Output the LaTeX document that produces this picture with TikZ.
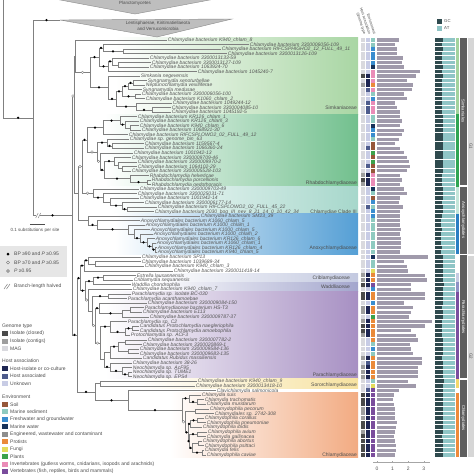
\documentclass[tikz,border=0pt]{standalone}
\usepackage{fontspec}
\setmainfont{Liberation Sans}
\usetikzlibrary{calc}
\definecolor{brc}{HTML}{808080}
\definecolor{labc}{HTML}{555555}
\definecolor{txtc}{HTML}{4D4D4D}
\definecolor{trif}{HTML}{BEBEBE}
\definecolor{trid}{HTML}{8A8A8A}
\definecolor{fsimk}{HTML}{A9D6A4}
\definecolor{frhab}{HTML}{72C08E}
\definecolor{fclIII}{HTML}{A6D7CB}
\definecolor{fanox}{HTML}{559FD5}
\definecolor{fcrib}{HTML}{C3C9E0}
\definecolor{fwadd}{HTML}{A3A6CD}
\definecolor{fpara}{HTML}{A790C3}
\definecolor{fsoro}{HTML}{F7E2A0}
\definecolor{fchla}{HTML}{F2AB82}
\definecolor{stsimk}{HTML}{A3D39E}
\definecolor{strhab}{HTML}{2FA553}
\definecolor{stclIII}{HTML}{C4E6DA}
\definecolor{stanox}{HTML}{2B7FC3}
\definecolor{stcrib}{HTML}{C6CBE2}
\definecolor{stwadd}{HTML}{8F92C6}
\definecolor{stpara}{HTML}{7B4FA0}
\definecolor{stsoro}{HTML}{F3D86B}
\definecolor{stchla}{HTML}{EE8B3B}
\definecolor{gtc}{HTML}{4A4A4A}
\definecolor{gtg}{HTML}{9E9E9E}
\definecolor{gtm}{HTML}{D9D9DE}
\definecolor{hsh}{HTML}{1E2652}
\definecolor{hsa}{HTML}{4E5C8C}
\definecolor{hsu}{HTML}{C8CCE5}
\definecolor{evsoi}{HTML}{96573A}
\definecolor{evsed}{HTML}{8ECAC0}
\definecolor{evfre}{HTML}{3A8DCF}
\definecolor{evmar}{HTML}{17325A}
\definecolor{eveng}{HTML}{8E8E8E}
\definecolor{evpro}{HTML}{EA8A3A}
\definecolor{evfun}{HTML}{E4DC5A}
\definecolor{evpla}{HTML}{3CA24B}
\definecolor{evinv}{HTML}{EA8CB8}
\definecolor{evver}{HTML}{7A4C9C}
\definecolor{barc}{HTML}{A09AAB}
\definecolor{gcd}{HTML}{2F4A4E}
\definecolor{atl}{HTML}{8FC5C6}
\definecolor{ordc}{HTML}{5E5E5E}
\definecolor{grpc}{HTML}{D6D6D6}
\definecolor{legbox}{HTML}{E6E6E6}
% leaf: index, tip x, name
\newcommand{\leaf}[3]{%
  \pgfmathsetmacro{\yy}{ifthenelse(#1<49,40+(#1-1)*4.51,257+(#1-49)*4.6)}%
  \coordinate (l#1) at (#2,\yy);
  \node[lab] at (l#1) {#3};}
% clade: name, x, upper child, lower child
\newcommand{\clade}[4]{%
  \path let \p1=(#3), \p2=(#4) in coordinate (#1) at ({#2pt},{0.5*(\y1+\y2)});
  \draw[br] (#3) -- (#3 -| #1) -- (#4 -| #1) -- (#4);}
\newcommand{\cladey}[5]{%
  \coordinate (#1) at (#2,#3);
  \draw[br] (#4) -- (#4 -| #1) -- (#5 -| #1) -- (#5);}
\newcommand{\dotb}[2]{\fill[black] ($(#1)!.5!(#1 -| #2)$) circle (1.25);}
\newcommand{\dotw}[2]{\filldraw[fill=white,draw=brc,line width=.4pt] ($(#1)!.5!(#1 -| #2)$) circle (1.3);}

\begin{document}
\begin{tikzpicture}[x=1pt,y=-1pt,
  br/.style={draw=brc,line width=.5pt},
  lab/.style={anchor=base west,inner sep=.7pt,yshift=-1.75pt,text=labc,font=\fontsize{5}{5}\selectfont\itshape},
  fam/.style={anchor=base east,inner sep=0pt,yshift=-1.75pt,text=txtc,font=\fontsize{5}{5}\selectfont},
  leg/.style={anchor=west,inner sep=0pt,text=txtc,font=\fontsize{5}{6}\selectfont},
  hdr/.style={anchor=base east,rotate=-72,inner sep=0pt,text=txtc,font=\fontsize{3.8}{4}\selectfont},
  ordt/.style={rotate=-90,inner sep=0pt,text=white,font=\fontsize{4.3}{5}\selectfont},
  grpt/.style={rotate=-90,inner sep=0pt,text=txtc,font=\fontsize{4.5}{5}\selectfont}]
\useasboundingbox (0,0) rectangle (474,474);

% family bands
\shade[left color=white,right color=fsimk] (115,37.7) rectangle (358,114.4);
\shade[left color=white,right color=frhab] (105,114.4) rectangle (358,186.6);
\shade[left color=white,right color=fclIII] (110,186.6) rectangle (358,213.6);
\shade[left color=white,right color=fanox] (115,213.6) rectangle (358,254.2);
\shade[left color=white,right color=fcrib] (150,273.1) rectangle (358,282.3);
\shade[left color=white,right color=fwadd] (150,282.3) rectangle (358,291.5);
\shade[left color=white,right color=fpara] (105,291.5) rectangle (358,378.9);
\shade[left color=white,right color=fsoro] (140,378.9) rectangle (358,388.1);
\shade[left color=white,right color=fchla] (170,392.7) rectangle (358,457.1);

% collapsed outgroups
\filldraw[fill=trif,draw=trid,line width=.4pt] (55,-1) -- (135,14) -- (215,-1) -- cycle;
\node[text=txtc,font=\fontsize{4.5}{5}\selectfont] at (135,3) {Planctomycetes};
\filldraw[fill=trif,draw=trid,line width=.4pt] (60,20) -- (232,19) -- (157,37) -- cycle;
\node[text=txtc,font=\fontsize{4.5}{5.6}\selectfont,align=center] at (158,26) {Lentisphaerae, Kiritimatiellaeota\\and Verrucomicrobia};

% leaves
\leaf{1}{167}{Chlamydiae bacterium K940\_chlam\_8}
\leaf{2}{249}{Chlamydiae bacterium 3300006056-109}
\leaf{3}{221}{Chlamydiae bacterium RIFCSPHIGHO2\_12\_FULL\_49\_11}
\leaf{4}{227}{Chlamydiae bacterium 3300013126-109}
\leaf{5}{149}{Chlamydiae bacterium 3300013133-59}
\leaf{6}{151}{Chlamydiae bacterium 3300013127-109}
\leaf{7}{149}{Chlamydiae bacterium 1063924-70}
\leaf{8}{197}{Chlamydiae bacterium 1045240-7}
\leaf{9}{140}{Simkania negevensis}
\leaf{10}{147}{Syngnamydia xenoturbellae}
\leaf{11}{145}{Neptunochlamydia vexilliferae}
\leaf{12}{142}{Syngnamydia medusae}
\leaf{13}{141}{Chlamydiae bacterium 3300006056-100}
\leaf{14}{145}{Chlamydiae bacterium K1060\_chlam\_2}
\leaf{15}{172}{Chlamydiae bacterium 1049244-12}
\leaf{16}{171}{Chlamydiae bacterium 3300004085-10}
\leaf{17}{171}{Chlamydiae bacterium 1045192-5}
\leaf{18}{137}{Chlamydiae bacterium KR126\_chlam\_1}
\leaf{19}{139}{Chlamydiae bacterium KR126\_chlam\_3}
\leaf{20}{139}{Chlamydiae bacterium K940\_chlam\_6}
\leaf{21}{141}{Chlamydiae bacterium 1068921-30}
\leaf{22}{128}{Chlamydiae bacterium RIFCSPLOWO2\_02\_FULL\_49\_12}
\leaf{23}{129}{Chlamydiae sp. genome\_bin\_63}
\leaf{24}{144}{Chlamydiae bacterium 1159567-4}
\leaf{25}{144}{Chlamydiae bacterium 1066360-24}
\leaf{26}{133}{Chlamydiae bacterium 1001942-13}
\leaf{27}{131}{Chlamydiae bacterium 3300009709-46}
\leaf{28}{137}{Chlamydiae bacterium 3300009970-2}
\leaf{29}{137}{Chlamydiae bacterium 1064102-29}
\leaf{30}{131}{Chlamydiae bacterium 3300005528-103}
\leaf{31}{149}{Rhabdochlamydia helveticae}
\leaf{32}{151}{Rhabdochlamydia porcellionis}
\leaf{33}{151}{Rhabdochlamydia oedothoracis}
\leaf{34}{139}{Chlamydiae bacterium 3300009703-49}
\leaf{35}{137}{Chlamydiae bacterium 3300025031-71}
\leaf{36}{139}{Chlamydiae bacterium 1001942-14}
\leaf{37}{144}{Chlamydiae bacterium 3300006177-14}
\leaf{38}{157}{Chlamydiae bacterium RIFCSPLOWO2\_02\_FULL\_45\_22}
\leaf{39}{154}{Chlamydiae bacterium 2030\_bog\_III\_nev\_8\_21\_14\_0\_10\_42\_34}
\leaf{40}{200}{Chlamydiae bacterium SM23\_39}
\leaf{41}{140}{Anoxychlamydiales bacterium K1060\_chlam\_5}
\leaf{42}{145}{Anoxychlamydiales bacterium K1000\_chlam\_1}
\leaf{43}{150}{Anoxychlamydiales bacterium K1000\_chlam\_5}
\leaf{44}{153}{Anoxychlamydiales bacterium K1000\_chlam\_2}
\leaf{45}{155}{Anoxychlamydiales bacterium KR126\_chlam\_6}
\leaf{46}{156}{Anoxychlamydiales bacterium K1060\_chlam\_1}
\leaf{47}{157}{Anoxychlamydiales bacterium KR126\_chlam\_4}
\leaf{48}{157}{Anoxychlamydiales bacterium K940\_chlam\_5}
\leaf{49}{141}{Chlamydiae bacterium SP13}
\leaf{50}{141}{Chlamydiae bacterium 1039689-34}
\leaf{51}{144}{Chlamydiae bacterium K940\_chlam\_3}
\leaf{52}{173}{Chlamydiae bacterium 3300011418-14}
\leaf{53}{136}{Estrella lausannensis}
\leaf{54}{133}{Criblamydia sequanensis}
\leaf{55}{131}{Waddlia chondrophila}
\leaf{56}{132}{Chlamydiae bacterium K940\_chlam\_7}
\leaf{57}{131}{Parachlamydia sp. isolate BC-030}
\leaf{58}{127}{Parachlamydia acanthamoebae}
\leaf{59}{147}{Chlamydiae bacterium 3300009084-150}
\leaf{60}{144}{Parachlamydiaceae bacterium HS-T3}
\leaf{61}{142}{Chlamydiae bacterium E113}
\leaf{62}{149}{Chlamydiae bacterium 3300009787-37}
\leaf{63}{127}{Parachlamydia sp. C2}
\leaf{64}{139}{Candidatus Protochlamydia naegleriophila}
\leaf{65}{139}{Candidatus Protochlamydia amoebophila}
\leaf{66}{130}{Protochlamydia sp. ACF3}
\leaf{67}{147}{Chlamydiae bacterium 3300007782-2}
\leaf{68}{142}{Chlamydiae bacterium 3300020869-1}
\leaf{69}{139}{Chlamydiae bacterium 3300009584-136}
\leaf{70}{139}{Chlamydiae bacterium 3300009683-135}
\leaf{71}{142}{Candidatus Rubidus massiliensis}
\leaf{72}{132}{Chlamydiae bacterium 38-26}
\leaf{73}{132}{Neochlamydia sp. AcF95}
\leaf{74}{132}{Neochlamydia sp. TUME1}
\leaf{75}{132}{Neochlamydia sp. EPS4}
\leaf{76}{197}{Chlamydiae bacterium K940\_chlam\_9}
\leaf{77}{195}{Chlamydiae bacterium 3300013418-10}
\leaf{78}{216}{Clavichlamydia salmonicola}
\leaf{79}{201}{Chlamydia suis}
\leaf{80}{204}{Chlamydia trachomatis}
\leaf{81}{206}{Chlamydia muridarum}
\leaf{82}{209}{Chlamydophila pecorum}
\leaf{83}{214}{Chlamydiales sp. 2742-308}
\leaf{84}{204}{Chlamydophila corallus}
\leaf{85}{206}{Chlamydophila pneumoniae}
\leaf{86}{202}{Chlamydophila ibidis}
\leaf{87}{207}{Chlamydophila avium}
\leaf{88}{206}{Chlamydia gallinacea}
\leaf{89}{202}{Chlamydophila abortus}
\leaf{90}{204}{Chlamydophila psittaci}
\leaf{91}{204}{Chlamydia felis}
\leaf{92}{206}{Chlamydophila caviae}

% Simkaniaceae
\clade{s7}{118}{l6}{l7}
\clade{s6}{112}{l5}{s7}
\clade{s5}{108}{s6}{l8}
\clade{s4}{123}{l3}{l4}
\clade{s3}{103}{l2}{s4}
\clade{s2}{99}{s3}{s5}
\clade{s13}{133}{l10}{l11}
\clade{s12}{128}{s13}{l12}
\clade{s14}{135}{l13}{l14}
\clade{s11}{122}{s12}{s14}
\clade{s16}{152}{l16}{l17}
\clade{s15}{136}{l15}{s16}
\clade{s10}{116}{s11}{s15}
\clade{s9}{108}{l9}{s10}
\clade{s8}{90}{s2}{s9}
\clade{s1}{75}{l1}{s8}
% Rhabdochlamydiaceae
\clade{r4}{130}{l20}{l21}
\clade{r3}{125}{l19}{r4}
\clade{r2}{120}{l18}{r3}
\clade{r1}{103}{r2}{l22}
\clade{r6}{112}{l24}{l25}
\clade{r5}{107}{l23}{r6}
\clade{r11}{122}{l29}{l30}
\clade{r10}{118}{l28}{r11}
\clade{r9}{114}{l27}{r10}
\clade{r13}{147}{l32}{l33}
\clade{r12}{130}{l31}{r13}
\clade{r8}{104}{r9}{r12}
\clade{r7}{100}{l26}{r8}
\clade{r14}{97}{r5}{r7}
\clade{r0}{87}{r1}{r14}
% Clade III
\clade{c5}{127}{l38}{l39}
\clade{c4}{122}{l37}{c5}
\clade{c3}{110}{l36}{c4}
\clade{c2}{103}{l35}{c3}
\clade{c1}{93}{l34}{c2}
% Anoxychlamydiaceae
\clade{a7}{155}{l47}{l48}
\clade{a6}{152}{l46}{a7}
\clade{a5}{147}{l45}{a6}
\clade{a4}{140}{l44}{a5}
\clade{a3}{134}{l43}{a4}
\clade{a2}{128}{l42}{a3}
\clade{a1}{97}{l41}{a2}
\clade{a0}{88}{l40}{a1}
\clade{rc}{82}{r0}{c1}
\clade{rca}{78}{rc}{a0}
\cladey{up}{74}{96}{s1}{rca}
% lower half
\clade{u2}{95}{l50}{l51}
\clade{u1}{88}{l49}{u2}
\clade{u0}{84}{u1}{l52}
\clade{cr}{103}{l53}{l54}
\clade{cw}{93}{cr}{l55}
\clade{p2}{108}{l57}{l58}
\clade{p4b}{130}{l60}{l61}
\clade{p4a}{122}{p4b}{l62}
\clade{p4}{99}{l59}{p4a}
\clade{p6b}{132}{l64}{l65}
\clade{p6a}{125}{p6b}{l66}
\clade{p6}{110}{l63}{p6a}
\clade{p8b}{125}{l67}{l68}
\clade{p8c}{128}{l69}{l70}
\clade{p8a}{118}{p8b}{p8c}
\clade{p8}{110}{p8a}{l71}
\clade{p9b}{128}{l74}{l75}
\clade{p9a}{122}{l73}{p9b}
\clade{p9}{110}{l72}{p9a}
\clade{p7}{104}{p8}{p9}
\clade{p5}{100}{p6}{p7}
\clade{p3}{95}{p4}{p5}
\clade{p1}{92}{p2}{p3}
\clade{pa}{88}{l56}{p1}
\clade{p0}{85}{cw}{pa}
\clade{pp}{80}{u0}{p0}
% Chlamydiaceae
\clade{y1a}{197}{l80}{l81}
\clade{y1}{189}{l79}{y1a}
\clade{y3}{195}{l82}{l83}
\clade{y5a}{197}{l84}{l85}
\clade{y5}{190}{y5a}{l86}
\clade{y6a}{197}{l87}{l88}
\clade{y7a}{198}{l89}{l90}
\clade{y7b}{202}{l91}{l92}
\clade{y7}{192}{y7a}{y7b}
\clade{y6}{189}{y6a}{y7}
\clade{y4}{188}{y5}{y6}
\clade{y2}{185}{y3}{y4}
\clade{y0}{182}{y1}{y2}
\clade{ch2}{128}{l78}{y0}
\clade{so}{100}{l76}{l77}
\clade{ch}{95}{so}{ch2}
\clade{lo}{77}{pp}{ch}
\clade{root}{72}{up}{lo}
\coordinate (lent) at (60,20);
\clade{outer}{33}{lent}{root}
\coordinate (pl) at (3,-2);
\draw[br] (pl) -- (outer -| pl) -- (outer);

% branch-length halved mark
\coordinate (hv) at ($(root -| outer)!.12!(root)$);
\fill[white] ([shift={(-1.5,-1)}]hv) rectangle ([shift={(2,1)}]hv);
\draw[br] ([shift={(-2,2.5)}]hv) -- ([shift={(0.5,-2.5)}]hv);
\draw[br] ([shift={(0.5,2.5)}]hv) -- ([shift={(3,-2.5)}]hv);

% support values
\foreach \n/\p in {s2/s8,s3/s2,s4/s3,s5/s2,s6/s5,s9/s8,s10/s9,s11/s10,s12/s11,s13/s12,s14/s11,s15/s10,s16/s15,
  r0/rc,r1/r0,r2/r1,r3/r2,r5/r14,r6/r5,r8/r7,r9/r8,r12/r8,r13/r12,c2/c1,c4/c3,c5/c4,
  a1/a0,a2/a1,a4/a3,a5/a4,a6/a5,a7/a6,u0/pp,u1/u0,p0/pp,cw/p0,cr/cw,p2/p1,p4/p3,p4a/p4,
  p6/p5,p6a/p6,p6b/p6a,p8a/p8,p9/p7,p9a/p9,p9b/p9a,pp/lo,lo/root,ch/lo,ch2/ch,y0/ch2,y1/y0,
  y1a/y1,y4/y2,y5/y4,y5a/y5,y6/y4,y6a/y6,y7/y6,y7b/y7,root/outer,lent/outer,outer/pl}
  {\dotb{\n}{\p}}
\foreach \n/\p in {s8/s1,up/root,r14/r0,r7/r14,rc/rca,c1/rc,pa/p0,p3/p1,p5/p3,y2/y0}
  {\dotw{\n}{\p}}

% family names
\node[fam] at (357,108) {Simkaniaceae};
\node[fam] at (357,183) {Rhabdochlamydiaceae};
\node[fam] at (357,212) {Chlamydiae Clade III};
\node[fam] at (357,248) {Anoxychlamydiaceae};
\node[fam] at (350,278) {Criblamydiaceae};
\node[fam] at (350,287) {Waddliaceae};
\node[fam] at (357,375) {Parachlamydiaceae};
\node[fam] at (357,384.5) {Sororchlamydiaceae};
\node[fam] at (357,455) {Chlamydiaceae};

% data columns
\foreach \i/\g/\h/\e/\b/\f in {
1/m/u/sed/1.40/.40,2/m/u/sed/1.15/.36,3/m/u/fre/1.30/.38,4/m/u/fre/1.30/.35,
5/m/u/fre/1.65/.37,6/m/u/fre/1.60/.36,7/m/u/mar/1.70/.38,8/m/u/inv/2.75/.34,
9/c/h/inv/2.50/.38,10/m/h/inv/1.95/.36,11/g/h/pro/2.30/.34,12/m/a/inv/2.25/.35,
13/m/u/sed/1.70/.37,14/m/u/fre/1.90/.36,15/m/a/inv/1.15/.33,16/m/a/inv/1.30/.34,
17/m/a/inv/1.45/.33,18/m/u/sed/1.50/.40,19/m/u/sed/1.60/.38,20/m/u/mar/1.50/.41,
21/m/u/fre/1.70/.39,22/m/u/fre/1.60/.40,23/m/u/sed/1.40/.42,24/m/u/soi/1.15/.38,
25/m/a/soi/1.50/.40,26/m/u/pla/1.75/.41,27/m/u/soi/1.95/.39,28/m/u/pla/2.05/.42,
29/m/a/soi/2.10/.40,30/m/u/soi/1.95/.38,31/g/h/inv/1.50/.36,32/c/h/inv/1.60/.35,
33/g/h/inv/1.50/.35,34/m/u/mar/1.75/.40,35/m/u/sed/1.90/.38,36/m/u/soi/1.50/.39,
37/m/u/fre/1.40/.37,38/m/a/sed/1.65/.40,39/m/u/fre/1.50/.38,40/m/u/fre/1.50/.36,
41/m/u/sed/1.50/.32,42/m/u/sed/1.45/.31,43/m/u/sed/1.55/.33,44/m/u/sed/1.50/.32,
45/m/u/sed/1.55/.31,46/m/u/sed/1.55/.32,47/m/u/sed/1.55/.33,48/m/u/sed/1.50/.32,
49/m/u/mar/3.30/.38,50/m/u/sed/1.70/.40,51/m/u/sed/1.90/.39,52/m/u/fun/2.00/.41,
53/g/h/pro/3.10/.40,54/g/h/pro/3.20/.38,55/c/h/ver/2.20/.44,56/m/u/fre/2.20/.39,
57/c/h/pro/3.10/.38,58/c/h/pro/3.10/.39,59/m/u/fre/1.75/.40,60/g/h/pro/2.30/.37,
61/g/h/pro/2.20/.38,62/m/u/pla/2.05/.41,63/g/h/pro/3.50/.36,64/c/h/pro/3.10/.36,
65/c/h/pro/2.20/.35,66/g/h/pro/2.50/.36,67/m/u/pro/2.60/.39,68/m/u/sed/2.10/.40,
69/m/u/fre/2.20/.38,70/m/u/sed/2.30/.39,71/g/h/pro/2.90/.37,72/m/a/pro/2.90/.38,
73/g/h/pro/2.60/.38,74/g/h/pro/2.60/.38,75/g/h/pro/2.60/.38,76/m/u/sed/2.00/.45,
77/m/u/fun/2.50/.42,78/m/a/ver/1.40/.38,79/c/h/ver/1.10/.40,80/c/h/ver/1.05/.41,
81/c/h/ver/1.10/.40,82/g/h/ver/1.15/.41,83/g/h/ver/1.15/.39,84/g/h/ver/1.15/.40,
85/c/h/ver/1.25/.41,86/c/h/ver/1.20/.39,87/g/h/ver/1.15/.38,88/c/h/ver/1.10/.37,
89/c/h/ver/1.15/.39,90/c/h/ver/1.20/.39,91/c/h/ver/1.20/.39,92/c/h/ver/1.15/.39}{
  \pgfmathsetmacro{\yy}{ifthenelse(\i<49,40+(\i-1)*4.51,257+(\i-49)*4.6)}
  \path[fill=gt\g] (360.5,\yy-2) rectangle ++(4,4);
  \path[fill=hs\h] (365.5,\yy-2) rectangle ++(4,4);
  \path[fill=ev\e] (370.5,\yy-2) rectangle ++(4,4);
  \fill[barc] (377,\yy-1.7) rectangle ({377+15.6*\b},\yy+1.7);
  \fill[gcd] (435,\yy-1.8) rectangle ({435+20*\f},\yy+1.8);
  \fill[atl] ({435+20*\f},\yy-1.8) rectangle (455,\yy+1.8);
}
\node[hdr] at (363.5,35) {Genome type};
\node[hdr] at (368.5,35) {Host association};
\node[hdr] at (373.5,35) {Environment};

% size axis
\draw[brc!70,line width=.4pt] (373,462) -- (430,462);
\foreach \t in {0,...,3}{
  \draw[brc!70,line width=.4pt] (377+15.6*\t,462) -- ++(0,-1.5);
  \node[text=txtc,font=\fontsize{5}{5}\selectfont] at (377+15.6*\t,469) {\t};}

% GC legend
\fill[gcd] (437,19) rectangle (442,24);
\fill[atl] (437,26) rectangle (442,31);
\node[leg,font=\fontsize{4.3}{5}\selectfont] at (444,21.5) {GC};
\node[leg,font=\fontsize{4.3}{5}\selectfont] at (444,28.5) {AT};

% family, order and group strips
\fill[stsimk] (455.5,37.7) rectangle (458.5,114.4);
\fill[strhab] (455.5,114.4) rectangle (458.5,186.6);
\fill[stclIII] (455.5,186.6) rectangle (458.5,213.6);
\fill[stanox] (455.5,213.6) rectangle (458.5,254.2);
\fill[stcrib] (455.5,273.1) rectangle (458.5,282.3);
\fill[stwadd] (455.5,282.3) rectangle (458.5,291.5);
\fill[stpara] (455.5,291.5) rectangle (458.5,378.9);
\fill[stsoro] (455.5,378.9) rectangle (458.5,388.1);
\fill[stchla] (455.5,392.7) rectangle (458.5,457.1);
\fill[ordc] (459.5,37.7) rectangle (467,185.4);
\fill[ordc] (459.5,186.8) rectangle (467,254.2);
\fill[ordc] (459.5,254.8) rectangle (467,378.4);
\fill[ordc] (459.5,379.6) rectangle (467,457.1);
\node[ordt] at (463.2,111) {Simkaniales};
\node[ordt] at (463.2,220) {Anoxychlamydiales};
\node[ordt] at (463.2,317) {Parachlamydiales};
\node[ordt] at (463.2,418) {Chlamydiales};
\fill[grpc] (468,37.7) rectangle (474,254.2);
\fill[grpc] (468,255.6) rectangle (474,457.1);
\node[grpt] at (471,146) {G1};
\node[grpt] at (471,356) {G2};

% scale bar
\draw[draw=txtc,line width=.8pt] (30,224) -- (45,224);
\node[text=txtc,font=\fontsize{4.5}{5}\selectfont] at (35,230) {0.1 substitutions per site};

% support legend
\fill[legbox] (0,246) rectangle (67,277);
\fill[black] (8,254) circle (1.5);
\filldraw[fill=white,draw=brc,line width=.4pt] (8,262.5) circle (1.5);
\filldraw[fill=brc!50,draw=brc,line width=.4pt] (8,271) circle (1.5);
\node[leg] at (14,254) {BP ≥90 and \textit{P} ≥0.95};
\node[leg] at (14,262.5) {BP ≥70 and \textit{P} ≥0.85};
\node[leg] at (14,271) {\textit{P} ≥0.95};
\draw[br] (4,289) -- (7.5,284);
\draw[br] (6.5,289) -- (10,284);
\node[leg] at (14,286.5) {Branch-length halved};

% genome, host and environment legends
\node[leg] at (2,326) {Genome type};
\foreach \c/\t [count=\k] in {gtc/Isolate (closed),gtg/Isolate (contigs),gtm/MAG}{
  \path[fill=\c] (2,326+7.5*\k-2.5) rectangle ++(5.5,5);
  \node[leg] at (10,326+7.5*\k) {\t};}
\node[leg] at (2,361) {Host association};
\foreach \c/\t [count=\k] in {hsh/Host-isolate or co-culture,hsa/Host associated,hsu/Unknown}{
  \path[fill=\c] (2,361+7.5*\k-2.5) rectangle ++(5.5,5);
  \node[leg] at (10,361+7.5*\k) {\t};}
\node[leg] at (2,397) {Environment};
\foreach \c/\t [count=\k] in {evsoi/Soil/rock,evsed/Marine sediment,evfre/Freshwater and groundwater,
  evmar/Marine water,eveng/{Engineered, wastewater and contaminant},evpro/Protists,evfun/Fungi,
  evpla/Plants,evinv/{Invertebrates (gutless worms, cnidarians, isopods and arachnids)},
  evver/{Vertebrates (fish, reptiles, birds and mammals)}}{
  \path[fill=\c] (2,397+7.45*\k-2.5) rectangle ++(5.5,5);
  \node[leg] at (10,397+7.45*\k) {\t};}
\end{tikzpicture}
\end{document}
